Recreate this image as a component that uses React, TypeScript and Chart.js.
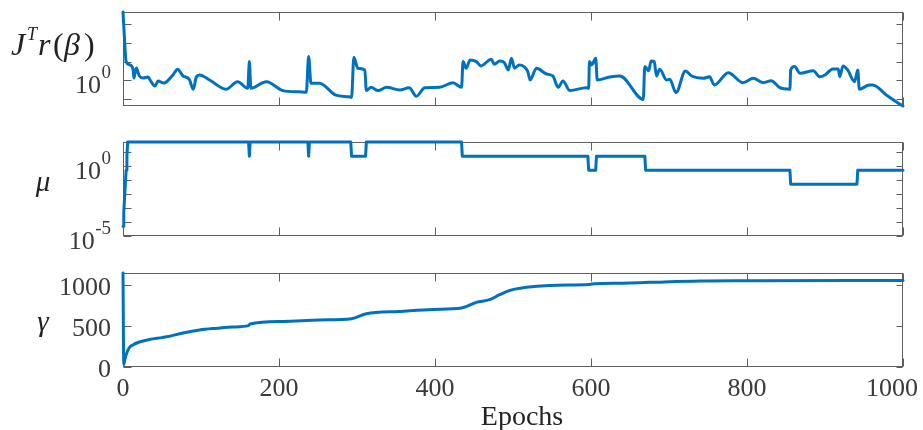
import React, { useEffect, useRef } from 'react';
import { Chart, registerables } from 'chart.js';

Chart.register(...registerables);

const WIDTH = 923;
const HEIGHT = 430;
const LINE_COLOR = '#0072BD';
const AXIS_COLOR = '#5e5e5e';
const TICK_TEXT = '#3a3a3a';
const TITLE_TEXT = '#222222';
const SERIF = '"Liberation Serif", "Times New Roman", serif';

// Gradient norm J^T r(beta) per epoch
const residualEpochs = [
  0, 2, 4, 9, 13, 14, 17, 21, 26, 32, 36, 41, 45, 52, 56, 64, 70, 77, 85, 90,
  94, 98, 111, 132, 147, 160, 162, 164, 179, 184, 205, 226, 235, 238, 241, 252,
  273, 290, 293, 296, 301, 310, 312, 318, 327, 338, 355, 367, 376, 387, 406, 423,
  434, 436, 440, 445, 453, 459, 472, 476, 483, 489, 494, 498, 502, 508, 519, 522,
  530, 543, 551, 558, 564, 573, 594, 597, 598, 601, 606, 608, 624, 637, 667, 669,
  674, 677, 681, 684, 688, 697, 701, 709, 721, 729, 744, 752, 758, 776, 795, 808,
  821, 831, 842, 855, 856, 861, 868, 885, 893, 900, 910, 917, 919, 923, 929, 938,
  942, 944, 957, 961, 979, 998, 1000,
];
const residualValues = [
  4530, 147, 10, 6.65, 3.58, 1.33, 4.58, 1.7, 1.33, 1.5, 0.84, 0.49, 0.92, 0.72, 0.84, 1.93, 3.9, 1.7, 1.13, 0.33,
  1.5, 1.93, 1.04, 0.33, 0.84, 0.37, 10, 0.37, 0.74, 0.84, 0.28, 0.24, 0.23, 18.6, 0.69, 0.69,
  0.16, 0.13, 0.12, 17.3, 4.4, 3.58, 0.28, 0.42, 0.28, 0.42, 0.3, 0.4, 0.14, 0.4, 0.42, 0.74,
  0.42, 10, 4.4, 12.3, 10, 5.9, 13.5, 7.25, 10.9, 8.8, 3.58, 15.2, 4.4, 6.65, 2.9, 1.04,
  4.4, 2.18, 1.7, 0.42, 0.92, 0.28, 0.4, 0.37, 10, 6.65, 15.2, 1.04, 1.5, 1.7, 0.095, 5.4,
  3.28, 10.9, 10, 1.7, 3.9, 1.04, 1.13, 0.22, 3.16, 1.7, 1.28, 1.56, 0.56, 2.56, 0.74, 1.28,
  0.74, 0.95, 0.4, 0.33, 3.58, 5.4, 2.38, 3.28, 1.56, 1.93, 4.05, 4.05, 1.56, 5.9, 3.58, 0.84,
  3.58, 0.33, 0.56, 0.56, 0.16, 0.047, 0.042,
];

// Damping factor mu per epoch
const muEpochs = [
  0, 1, 2, 3, 4, 5, 6, 161, 162, 163, 237, 238, 239, 292, 293, 311, 312,
  434, 435, 596, 597, 606, 607, 669, 670, 855, 856, 941, 942, 1000,
];
const muValues = [
  5e-5, 5e-4, 5e-3, 0.05, 0.5, 5, 50, 50, 5, 50, 50, 5, 50, 50, 5, 5, 50,
  50, 5, 5, 0.5, 0.5, 5, 5, 0.5, 0.5, 0.05, 0.05, 0.5, 0.5,
];

// Effective number of parameters gamma per epoch
const gammaEpochs = [
  0, 1, 2, 4, 8, 12, 21, 34, 50, 56, 77, 98, 120, 141, 161, 163, 205, 252, 293, 312,
  355, 397, 434, 453, 470, 483, 496, 517, 547, 598, 605, 640, 675, 740, 800, 1000,
];
const gammaValues = [
  1146, 30, 75, 150, 235, 265, 305, 335, 358, 368, 415, 451, 472, 488, 504, 525, 556, 573, 589, 650,
  678, 702, 720, 788, 821, 882, 934, 971, 995, 1007, 1015, 1022, 1032, 1049, 1052, 1056,
];

const epochTicks = [0, 200, 400, 600, 800, 1000];
const residualTicks = [0.1, 1, 10, 100, 1000];
const muTicks = [1e-5, 1e-4, 1e-3, 1e-2, 1e-1, 1, 10];
const gammaTicks = [0, 500, 1000];

// Labelled ticks: [value, mantissa, exponent]
const residualTickLabels: [number, string, string][] = [[1, '10', '0']];
const muTickLabels: [number, string, string][] = [[1, '10', '0'], [1e-5, '10', '-5']];
const gammaTickLabels: [number, string][] = [[0, '0'], [500, '500'], [1000, '1000']];

const TICK_FONT = `26px ${SERIF}`;
const SUP_FONT = `19px ${SERIF}`;

type Panel = {
  epochs: number[];
  values: number[];
  yScale: any;
  top: number;
  bottom: number;
  yTicks: number[];
  smooth: boolean;
  drawLabels: (ctx: CanvasRenderingContext2D, chart: any) => void;
  showEpochLabels: boolean;
};

function drawPower(ctx: CanvasRenderingContext2D, mant: string, exp: string, right: number, y: number) {
  ctx.fillStyle = TICK_TEXT;
  ctx.textAlign = 'left';
  ctx.textBaseline = 'alphabetic';
  ctx.font = SUP_FONT;
  const sw = ctx.measureText(exp).width;
  ctx.fillText(exp, right - sw, y - 2);
  ctx.font = TICK_FONT;
  const bw = ctx.measureText(mant).width;
  ctx.fillText(mant, right - sw - bw - 0.5, y + 13);
}

// J^T r(β) with a superscript T, laid out glyph by glyph
function drawResidualTitle(ctx: CanvasRenderingContext2D) {
  const base = 55;
  ctx.fillStyle = TITLE_TEXT;
  ctx.textAlign = 'left';
  ctx.textBaseline = 'alphabetic';
  ctx.font = `italic 32px ${SERIF}`;
  ctx.fillText('J', 11, base);
  ctx.font = `italic 18px ${SERIF}`;
  ctx.fillText('T', 27, base - 15);
  ctx.font = `italic 32px ${SERIF}`;
  ctx.fillText('r', 38, base);
  ctx.font = `32px ${SERIF}`;
  ctx.fillText('(', 53, base);
  ctx.font = `italic 32px ${SERIF}`;
  ctx.fillText('β', 64, base);
  ctx.font = `32px ${SERIF}`;
  ctx.fillText(')', 84, base);
}

function drawItalicTitle(ctx: CanvasRenderingContext2D, text: string, cx: number, base: number) {
  ctx.fillStyle = TITLE_TEXT;
  ctx.font = `italic 29px ${SERIF}`;
  ctx.textAlign = 'center';
  ctx.textBaseline = 'alphabetic';
  ctx.fillText(text, cx, base);
}

function framePlugin(panel: Panel) {
  return {
    id: 'matlabFrame',
    beforeDatasetsDraw(chart: any) {
      const { ctx, chartArea } = chart;
      const xs = chart.scales.x;
      const ys = chart.scales.y;
      const l = Math.round(chartArea.left) + 0.5;
      const r = Math.round(chartArea.right) - 0.5;
      const t = Math.round(chartArea.top) + 0.5;
      const b = Math.round(chartArea.bottom) - 0.5;
      ctx.save();
      ctx.strokeStyle = AXIS_COLOR;
      ctx.lineWidth = 1;
      ctx.strokeRect(l, t, r - l, b - t);
      ctx.beginPath();
      for (const v of epochTicks) {
        const x = Math.round(xs.getPixelForValue(v)) + 0.5;
        ctx.moveTo(x, b);
        ctx.lineTo(x, b - 8);
        ctx.moveTo(x, t);
        ctx.lineTo(x, t + 8);
      }
      for (const v of panel.yTicks) {
        const y = Math.round(ys.getPixelForValue(v)) + 0.5;
        ctx.moveTo(l, y);
        ctx.lineTo(l + 8, y);
        ctx.moveTo(r, y);
        ctx.lineTo(r - 6, y);
      }
      ctx.stroke();
      ctx.restore();
    },
    afterDraw(chart: any) {
      const { ctx } = chart;
      ctx.save();
      panel.drawLabels(ctx, chart);
      if (panel.showEpochLabels) {
        const xs = chart.scales.x;
        ctx.fillStyle = TICK_TEXT;
        ctx.font = TICK_FONT;
        ctx.textAlign = 'center';
        ctx.textBaseline = 'alphabetic';
        for (const v of epochTicks) {
          const s = String(v);
          const w = ctx.measureText(s).width;
          // keep the last label inside the figure
          const x = Math.min(xs.getPixelForValue(v), WIDTH - 5 - w / 2);
          ctx.fillText(s, x, 396);
        }
        ctx.fillStyle = TITLE_TEXT;
        ctx.font = `28px ${SERIF}`;
        ctx.fillText('Epochs', 522, 425);
      }
      ctx.restore();
    },
  };
}

const panels: Panel[] = [
  {
    epochs: residualEpochs,
    values: residualValues,
    yScale: { type: 'logarithmic', min: 0.042, max: 4530 },
    top: 12,
    bottom: 106,
    yTicks: residualTicks,
    smooth: true,
    showEpochLabels: false,
    drawLabels: (ctx, chart) => {
      drawResidualTitle(ctx);
      for (const [v, m, e] of residualTickLabels) {
        drawPower(ctx, m, e, 111, chart.scales.y.getPixelForValue(v));
      }
    },
  },
  {
    epochs: muEpochs,
    values: muValues,
    yScale: { type: 'logarithmic', min: 1e-5, max: 51 },
    top: 142,
    bottom: 236,
    yTicks: muTicks,
    smooth: false,
    showEpochLabels: false,
    drawLabels: (ctx, chart) => {
      drawItalicTitle(ctx, 'μ', 43, 191);
      for (const [v, m, e] of muTickLabels) {
        drawPower(ctx, m, e, 111, chart.scales.y.getPixelForValue(v));
      }
    },
  },
  {
    epochs: gammaEpochs,
    values: gammaValues,
    yScale: { type: 'linear', min: 0, max: 1146 },
    top: 273,
    bottom: 367,
    yTicks: gammaTicks,
    smooth: true,
    showEpochLabels: true,
    drawLabels: (ctx, chart) => {
      drawItalicTitle(ctx, 'γ', 43, 331);
      ctx.fillStyle = TICK_TEXT;
      ctx.font = TICK_FONT;
      ctx.textAlign = 'right';
      ctx.textBaseline = 'alphabetic';
      for (const [v, s] of gammaTickLabels) {
        ctx.fillText(s, 111, chart.scales.y.getPixelForValue(v) + 10);
      }
    },
  },
];

function PanelChart({ panel }: { panel: Panel }) {
  const ref = useRef<HTMLCanvasElement>(null);
  useEffect(() => {
    if (!ref.current) return;
    const chart = new Chart(ref.current, {
      type: 'line',
      data: {
        datasets: [
          {
            data: panel.epochs.map((x, i) => ({ x, y: panel.values[i] })),
            borderColor: LINE_COLOR,
            borderWidth: 3,
            pointRadius: 0,
            tension: 0,
            cubicInterpolationMode: panel.smooth ? 'monotone' : 'default',
            fill: false,
            clip: false,
            borderJoinStyle: 'round',
            borderCapStyle: 'round',
          } as any,
        ],
      },
      options: {
        responsive: false,
        animation: false,
        events: [],
        layout: {
          padding: {
            left: 123,
            right: WIDTH - 903,
            top: panel.top,
            bottom: HEIGHT - panel.bottom,
          },
        },
        plugins: { legend: { display: false }, tooltip: { enabled: false } },
        scales: {
          x: { type: 'linear', min: 0, max: 1000, display: false, bounds: 'data' },
          y: { ...panel.yScale, display: false, bounds: 'data' },
        },
      } as any,
      plugins: [framePlugin(panel)],
    });
    return () => chart.destroy();
  }, [panel]);
  return (
    <canvas
      ref={ref}
      width={WIDTH}
      height={HEIGHT}
      style={{ position: 'absolute', left: 0, top: 0, width: WIDTH, height: HEIGHT }}
    />
  );
}

export default function App() {
  return (
    <div style={{ position: 'absolute', left: 0, top: 0, width: WIDTH, height: HEIGHT, background: '#ffffff' }}>
      {panels.map((p, i) => (
        <PanelChart key={i} panel={p} />
      ))}
    </div>
  );
}
